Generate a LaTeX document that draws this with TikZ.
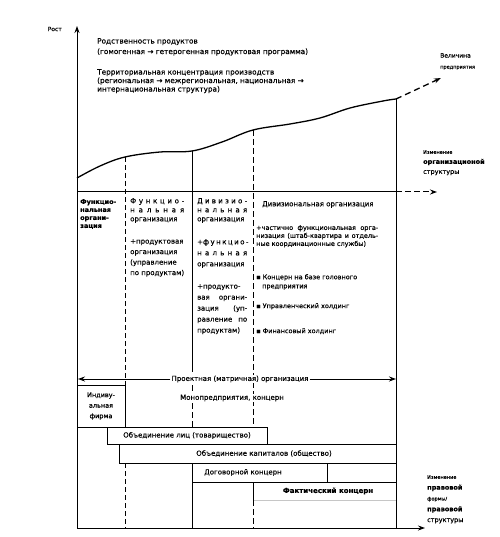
\documentclass[tikz,border=0pt]{standalone}
\usepackage{fontspec}
\setmainfont{DejaVu Sans}[FakeBold=0.3]
\usetikzlibrary{arrows.meta}
\newcommand{\spr}[2]{\makebox[#1][s]{#2}}
\begin{document}
\begin{tikzpicture}[x=1pt,y=-1pt,
  ln/.style={line width=1pt},
  thin line/.style={line width=0.7pt},
  dsh/.style={line width=1pt, dash pattern=on 6pt off 3pt},
  dshs/.style={line width=0.9pt, dash pattern=on 5pt off 3pt},
  tip/.style={-{Stealth[length=7pt,width=5pt]}},
  tx/.style={inner sep=0pt, font=\fontsize{7}{9}\selectfont, align=left},
  txs/.style={inner sep=0pt, font=\fontsize{6.5}{8}\selectfont, align=left},
  lbl/.style={inner sep=1pt, font=\fontsize{7}{9}\selectfont, fill=white}
]
\useasboundingbox (0,0) rectangle (499,537);

% axes
\coordinate (O) at (77,528);
\coordinate (Ytop) at (77,26);
\coordinate (Xend) at (425,528);
\draw[ln,tip] (O) -- (Ytop);
\draw[ln,tip] (O) -- (Xend);
\node[anchor=east, inner sep=0pt, font=\fontsize{6}{7}\selectfont] (rost) at (62,29) {Рост};

% top texts
\node[tx, anchor=north west, font=\fontsize{7.3}{9.5}\selectfont] (top1) at (97,38) {Родственность продуктов\\[1pt](гомогенная → гетерогенная продуктовая программа)};
\node[tx, anchor=north west, font=\fontsize{7.3}{8.5}\selectfont] (top2) at (97,69) {Территориальная концентрация производств\\(региональная → межрегиональная, национальная →\\интернациональная структура)};

% growth curve
\coordinate (c4) at (396,99);
\coordinate (vtip) at (441,78);
\draw[line width=1.3pt] plot[smooth, tension=0.6] coordinates {(77,178) (100,166) (125,157) (160,152) (192,151) (222,142) (253,130) (290,124) (320,118) (350,108) (383,101) (396,99)};
\draw[line width=1.3pt, dash pattern=on 6pt off 4pt, tip] (c4) -- (vtip);
\node[inner sep=0pt, anchor=north west, align=left, font=\fontsize{6}{11}\selectfont] (vel) at (440,53) {Величина\\{\fontsize{5}{11}\selectfont предприятия}};

% organisational structure line
\coordinate (o0) at (77,192);
\coordinate (o1) at (396,192);
\coordinate (o2) at (437,192);
\draw[ln] (o0) -- (o1);
\draw[dsh,tip] (o1) -- (o2);
\node[inner sep=0pt, anchor=north west, align=left, font=\fontsize{6.5}{10}\selectfont] (orgch) at (423,150) {{\fontsize{5}{10}\selectfont Изменение}\\{\bfseries организационой}\\структуры};

% vertical dividers
\draw[dshs] (125,157) -- (125,385);
\draw[thin line] (192,151) -- (192,372);
\draw[dsh] (192,385) -- (192,427);
\draw[dsh] (253,130) -- (253,427);
\draw[ln] (c4) -- (396,528);

% column texts
\node[tx, anchor=north west, font=\fontsize{6.5}{8}\selectfont\bfseries] (col1) at (80,199) {Функцио-\\нальная\\органи-\\зация};
\node[tx, anchor=north west] (col2a) at (130,198) {\spr{54pt}{Ф у н к ц и о -}\\\spr{54pt}{н а л ь н а я}\\организация};
\node[tx, anchor=north west, font=\fontsize{7}{10.5}\selectfont] (col2b) at (130,239) {+продуктовая\\организация\\(управление\\по продуктам)};
\node[tx, anchor=north west] (col3a) at (197,198) {\spr{50pt}{Д и в и з и о -}\\\spr{50pt}{н а л ь н а я}\\организация};
\node[tx, anchor=north west, font=\fontsize{7}{11}\selectfont] (col3b) at (197,239) {\spr{50pt}{+ф у н к ц и о -}\\\spr{50pt}{н а л ь н а я}\\организация};
\node[tx, anchor=north west, font=\fontsize{7}{11}\selectfont] (col3c) at (197,284) {+продукто-\\\spr{50pt}{вая органи-}\\\spr{50pt}{зация (уп-}\\\spr{50pt}{равление по}\\продуктам)};
\node[tx, anchor=north west] (col4a) at (262,201) {Дивизиональная организация};
\node[tx, anchor=north west, font=\fontsize{6.5}{8}\selectfont] (col4b) at (256,225) {\spr{122pt}{+частично функциональная орга-}\\\spr{122pt}{низация (штаб-квартира и отдель-}\\ные координационные службы)};
\node[tx, anchor=north west, font=\fontsize{6.5}{9}\selectfont] (col4c) at (256,274) {▪ Концерн на базе головного\\\hspace*{6pt}предприятия};
\node[tx, anchor=north west, font=\fontsize{6.5}{9}\selectfont] (col4d) at (256,303) {▪ Управленческий холдинг};
\node[tx, anchor=north west, font=\fontsize{6.5}{9}\selectfont] (col4e) at (256,328) {▪ Финансовый холдинг};

% project (matrix) organisation arrow
\coordinate (pl) at (78,379);
\coordinate (pr) at (396,379);
\node[lbl] (proj) at (240,379) {Проектная (матричная) организация};
\draw[ln,tip] (proj.west) -- (pl);
\draw[ln,tip] (proj.east) -- (pr);
\node[lbl] (mono) at (232,398) {Монопредприятия, концерн};

% legal form boxes
\draw[ln] (77,385) rectangle (125,427);
\node[txs, align=center, font=\fontsize{6.5}{10.5}\selectfont] (indiv) at (101,406) {Индиву-\\альная\\фирма};
\draw[ln] (77,427) -- (267,427) -- (267,444) -- (107,444) -- (107,427);
\draw[ln] (267,444) -- (396,444);
\node[tx] (boxA) at (187,435.5) {Объединение лиц (товарищество)};
\draw[ln] (119,444) -- (119,463) -- (396,463);
\node[tx] (boxB) at (264,453.5) {Объединение капиталов (общество)};
\draw[ln] (192,463) -- (192,528);
\draw[ln] (327,463) -- (327,482);
\draw[ln] (192,482) -- (396,482);
\node[tx] (boxC) at (243,472.5) {Договорной концерн};
\draw[ln] (253,482) -- (253,500);
\draw[gray!45, line width=0.5pt] (253,500) -- (396,500);
\node[tx, font=\fontsize{7}{9}\selectfont\bfseries] (boxD) at (328,491) {Фактический концерн};
\draw[dsh] (253,500) -- (253,528);
\draw[dshs] (125,463) -- (125,528);

\node[inner sep=0pt, anchor=north west, align=left, font=\fontsize{6.5}{10.8}\selectfont] (legch) at (427,475) {{\fontsize{5}{10.8}\selectfont Изменение}\\{\bfseries правовой}\\{\fontsize{5}{10.8}\selectfont формы/}\\{\bfseries правовой}\\структуры};
\end{tikzpicture}
\end{document}
